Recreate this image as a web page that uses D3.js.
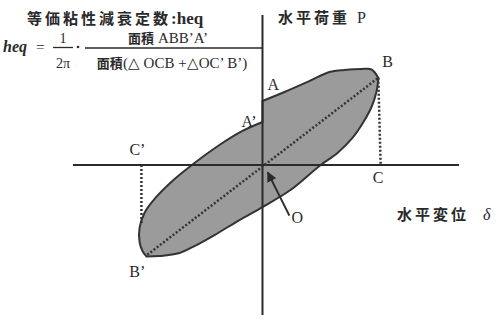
<!DOCTYPE html>
<html>
<head>
<meta charset="utf-8">
<script src="https://cdn.jsdelivr.net/npm/d3@7"></script>
<style>
  body { margin: 0; background: #fff; }
  svg { display: block; }
</style>
</head>
<body>
<div id="chart"></div>
<script>
// Loop branches as [displacement, load] pairs
const loadingBranch = [
  [0, 7.34], [1.88, 8.37], [4.02, 9.63], [5.73, 10.67],
  [7.01, 10.89], [8.46, 11.01], [9.32, 10.95], [9.91, 9.98]
];
const unloadingBranch = [
  [9.91, 9.98], [9.74, 8.37], [9.32, 6.65], [8.63, 4.93], [7.69, 3.1], [6.41, 1.38],
  [4.87, -0.11], [2.39, -2.87], [0, -4.82], [-1.97, -6.31], [-4.1, -8.03],
  [-5.81, -9.29], [-7.09, -10.09], [-8.8, -10.44], [-9.91, -10.5]
];
const reloadingBranch = [
  [-9.91, -10.5], [-10.26, -9.86], [-10.51, -8.83], [-10.51, -7.22], [-10.09, -5.5],
  [-9.15, -3.78], [-7.61, -1.72], [-5.81, 0.23], [-3.68, 2.29], [-1.71, 3.9], [0, 4.93]
];

// Key points
const pointNames = ["A", "A’", "B", "B’", "C", "C’", "O"];
const pointValues = [[0, 7.34], [0, 4.93], [9.9, 10.0], [-9.85, -10.3], [10.1, 0], [-10.35, 0], [0, 0]];

const axisTitles = ["水平荷重", "水平変位"];
const axisSymbols = ["P", "δ"];

const width = 501, height = 322;
const svg = d3.select("#chart").append("svg")
  .attr("width", width)
  .attr("height", height);

const x = d3.scaleLinear().domain([-16.2, 16.8]).range([73, 459]);
const y = d3.scaleLinear().domain([-17.2, 17.2]).range([315, 15]);

const pt = name => pointValues[pointNames.indexOf(name)];

const cjk = "'Noto Sans CJK JP', sans-serif";
const serif = "'Liberation Serif', serif";
const ink = "#2a2a2a";

// Hysteresis loop: smooth branches joined, A'-A closes straight
const branch = d3.line().x(d => x(d[0])).y(d => y(d[1])).curve(d3.curveCatmullRom.alpha(0.5));
const loopPath = branch(loadingBranch) +
  branch(unloadingBranch).replace(/^M/, "L") +
  branch(reloadingBranch).replace(/^M/, "L") + "Z";
svg.append("path")
  .attr("d", loopPath)
  .attr("fill", "#9b9b9b")
  .attr("stroke", "#333")
  .attr("stroke-width", 2)
  .attr("stroke-linejoin", "round");

// Axes
svg.append("line")
  .attr("x1", x(-16.2)).attr("x2", x(16.8))
  .attr("y1", y(0)).attr("y2", y(0))
  .attr("stroke", ink).attr("stroke-width", 2);
svg.append("line")
  .attr("x1", x(0)).attr("x2", x(0))
  .attr("y1", y(17.2)).attr("y2", y(-17.2))
  .attr("stroke", ink).attr("stroke-width", 2);

// Dotted lines
const dotted = (a, b) => svg.append("line")
  .attr("x1", x(a[0])).attr("y1", y(a[1]))
  .attr("x2", x(b[0])).attr("y2", y(b[1]))
  .attr("stroke", "#333").attr("stroke-width", 2.5)
  .attr("stroke-dasharray", "2,2");
dotted(pt("B’"), pt("B"));
dotted(pt("B"), pt("C"));
dotted(pt("C’"), [pt("C’")[0], -6.8]);

// Arrow to origin
svg.append("defs").append("marker")
  .attr("id", "head")
  .attr("viewBox", "0 0 10 10")
  .attr("refX", 9).attr("refY", 5)
  .attr("markerWidth", 5).attr("markerHeight", 5)
  .attr("orient", "auto")
  .append("path").attr("d", "M0,0L10,5L0,10z").attr("fill", ink);
svg.append("line")
  .attr("x1", x(2.3)).attr("y1", y(-5.8))
  .attr("x2", x(0.45)).attr("y2", y(-0.85))
  .attr("stroke", ink).attr("stroke-width", 2)
  .attr("marker-end", "url(#head)");

// Point labels
const labelOffsets = {
  "A": [5, -11], "A’": [-21, 5], "B": [4, -11], "B’": [-18, 22],
  "C": [-8, 18], "C’": [-12, -10], "O": [29, 58]
};
pointNames.forEach((n, i) => {
  const o = labelOffsets[n];
  const v = pointValues[i];
  svg.append("text")
    .attr("x", x(v[0]) + o[0])
    .attr("y", y(v[1]) + o[1])
    .attr("font-family", serif)
    .attr("font-size", 16)
    .attr("fill", ink)
    .text(n);
});

// Axis titles
const axisLabel = (tx, ty, title, sym, gap) => {
  const t = svg.append("text").attr("x", tx).attr("y", ty).attr("fill", ink);
  t.append("tspan").attr("font-family", cjk).attr("font-weight", "bold")
    .attr("font-size", 15).attr("letter-spacing", 3).text(title);
  t.append("tspan").attr("dx", gap).attr("font-family", serif)
    .attr("font-size", 16).attr("font-style", sym === "δ" ? "italic" : "normal").text(sym);
};
axisLabel(278, 23, axisTitles[0], axisSymbols[0], 7);
axisLabel(397, 220, axisTitles[1], axisSymbols[1], 14);

// Title
const title = svg.append("text").attr("x", 27).attr("y", 24).attr("fill", ink);
title.append("tspan").attr("font-family", cjk).attr("font-weight", "bold")
  .attr("font-size", 15).attr("letter-spacing", 3).text("等価粘性減衰定数");
title.append("tspan").attr("font-family", serif).attr("font-weight", "bold")
  .attr("font-size", 17).text(":heq");

// Formula
const f = svg.append("g").attr("fill", ink);
f.append("text").attr("x", 3).attr("y", 52)
  .attr("font-family", serif).attr("font-style", "italic").attr("font-weight", "bold")
  .attr("font-size", 16).text("heq");
f.append("text").attr("x", 36).attr("y", 52)
  .attr("font-family", serif).attr("font-size", 15).text("=");
f.append("text").attr("x", 63).attr("y", 43).attr("text-anchor", "middle")
  .attr("font-family", serif).attr("font-size", 14).text("1");
f.append("line").attr("x1", 53).attr("x2", 73).attr("y1", 47.5).attr("y2", 47.5)
  .attr("stroke", ink).attr("stroke-width", 1.3);
f.append("text").attr("x", 63).attr("y", 68).attr("text-anchor", "middle")
  .attr("font-family", serif).attr("font-size", 14).text("2π");
f.append("circle").attr("cx", 78).attr("cy", 47).attr("r", 1.3);
f.append("line").attr("x1", 85).attr("x2", 262).attr("y1", 48).attr("y2", 48)
  .attr("stroke", ink).attr("stroke-width", 1.3);

const num = f.append("text").attr("x", 168).attr("y", 43).attr("text-anchor", "middle");
num.append("tspan").attr("font-family", cjk).attr("font-weight", "bold").attr("font-size", 13).text("面積");
num.append("tspan").attr("font-family", serif).attr("font-size", 15).text(" ABB’A’");

const den = f.append("text").attr("x", 172).attr("y", 68).attr("text-anchor", "middle");
den.append("tspan").attr("font-family", cjk).attr("font-weight", "bold").attr("font-size", 13).text("面積");
den.append("tspan").attr("font-family", serif).attr("font-size", 15).text("(△ OCB +△OC’ B’)");
</script>
</body>
</html>
